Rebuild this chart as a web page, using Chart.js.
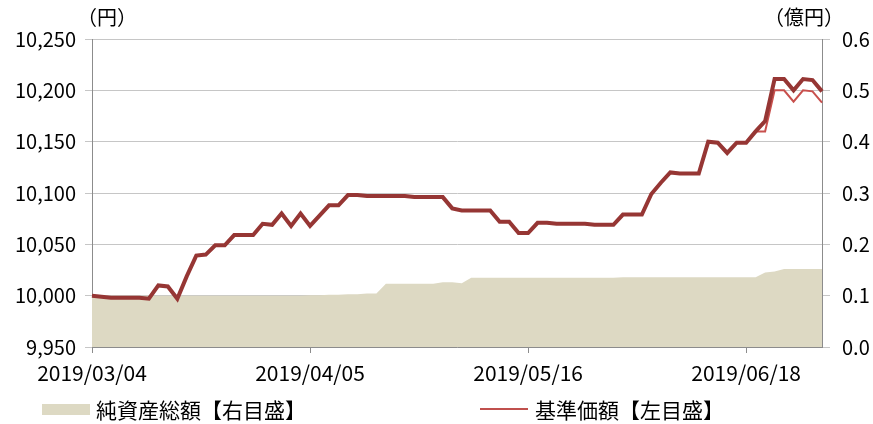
<!DOCTYPE html>
<html>
<head>
<meta charset="utf-8">
<script src="https://cdn.jsdelivr.net/npm/chart.js@4"></script>
<style>
    html, body { margin: 0; padding: 0; background: #fff; }
    #wrap { position: relative; width: 873px; height: 424px; font-family: "Noto Sans CJK JP", sans-serif; color: #000; }
    #myChart { position: absolute; left: 0; top: 0; }
    .txt { position: absolute; font-size: 20px; line-height: 22px; white-space: nowrap; }
    .swatch { position: absolute; }
</style>
</head>
<body>
<div id="wrap">
    <canvas id="myChart" width="873" height="424"></canvas>
    <div class="txt" style="left:77px; top:6px;">（円）</div>
    <div class="txt" style="left:764px; top:6px;">（億円）</div>
    <div class="swatch" style="left:42px; top:404px; width:48px; height:11px; background:#DDD9C3;"></div>
    <div class="txt" style="left:96px; top:398px; font-size:21px;">純資産総額【右目盛】</div>
    <div class="swatch" style="left:480px; top:408px; width:48px; height:2px; background:#C0504D;"></div>
    <div class="txt" style="left:535px; top:398px; font-size:21px;">基準価額【左目盛】</div>
</div>
<script>
// business days 2019/03/04 - 2019/06/28
const dates = [
    '2019/03/04','2019/03/05','2019/03/06','2019/03/07','2019/03/08','2019/03/11','2019/03/12','2019/03/13','2019/03/14','2019/03/15',
    '2019/03/18','2019/03/19','2019/03/20','2019/03/22','2019/03/25','2019/03/26','2019/03/27','2019/03/28','2019/03/29',
    '2019/04/01','2019/04/02','2019/04/03','2019/04/04','2019/04/05','2019/04/08','2019/04/09','2019/04/10','2019/04/11','2019/04/12',
    '2019/04/15','2019/04/16','2019/04/17','2019/04/18','2019/04/19','2019/04/22','2019/04/23','2019/04/24','2019/04/25','2019/04/26',
    '2019/05/07','2019/05/08','2019/05/09','2019/05/10','2019/05/13','2019/05/14','2019/05/15','2019/05/16','2019/05/17',
    '2019/05/20','2019/05/21','2019/05/22','2019/05/23','2019/05/24','2019/05/27','2019/05/28','2019/05/29','2019/05/30','2019/05/31',
    '2019/06/03','2019/06/04','2019/06/05','2019/06/06','2019/06/07','2019/06/10','2019/06/11','2019/06/12','2019/06/13','2019/06/14',
    '2019/06/17','2019/06/18','2019/06/19','2019/06/20','2019/06/21','2019/06/24','2019/06/25','2019/06/26','2019/06/27','2019/06/28'
];

// dates that get a label on the x axis
const labeledDates = ['2019/03/04', '2019/04/05', '2019/05/16', '2019/06/18'];

// thick dark line (no legend entry)
const reinvestedNav = [
    10000, 9999, 9998, 9998, 9998, 9998, 9997, 10010, 10009, 9997,
    10019, 10039, 10040, 10049, 10049, 10059, 10059, 10059, 10070, 10069,
    10080, 10068, 10080, 10068, 10078, 10088, 10088, 10098, 10098, 10097,
    10097, 10097, 10097, 10097, 10096, 10096, 10096, 10096, 10085, 10083,
    10083, 10083, 10083, 10072, 10072, 10061, 10061, 10071, 10071, 10070,
    10070, 10070, 10070, 10069, 10069, 10069, 10079, 10079, 10079, 10099,
    10110, 10120, 10119, 10119, 10119, 10150, 10149, 10139, 10149, 10149,
    10160, 10170, 10211, 10211, 10200, 10211, 10210, 10199
];

// 基準価額 (円)
const nav = [
    10000, 9999, 9998, 9998, 9998, 9998, 9997, 10010, 10009, 9997,
    10019, 10039, 10040, 10049, 10049, 10059, 10059, 10059, 10070, 10069,
    10080, 10068, 10080, 10068, 10078, 10088, 10088, 10098, 10098, 10097,
    10097, 10097, 10097, 10097, 10096, 10096, 10096, 10096, 10085, 10083,
    10083, 10083, 10083, 10072, 10072, 10061, 10061, 10071, 10071, 10070,
    10070, 10070, 10070, 10069, 10069, 10069, 10079, 10079, 10079, 10099,
    10110, 10120, 10119, 10119, 10119, 10150, 10149, 10139, 10149, 10149,
    10160, 10160, 10200, 10200, 10189, 10200, 10199, 10188
];

// 純資産総額 (億円)
const totalAssets = [
    0.100, 0.100, 0.100, 0.100, 0.100, 0.100, 0.100, 0.100, 0.100, 0.100,
    0.100, 0.100, 0.100, 0.100, 0.100, 0.100, 0.100, 0.100, 0.100, 0.100,
    0.100, 0.100, 0.100, 0.101, 0.101, 0.102, 0.102, 0.103, 0.103, 0.104,
    0.104, 0.123, 0.123, 0.123, 0.123, 0.123, 0.123, 0.126, 0.126, 0.124,
    0.135, 0.135, 0.135, 0.135, 0.135, 0.135, 0.135, 0.135, 0.135, 0.135,
    0.135, 0.135, 0.135, 0.135, 0.135, 0.135, 0.136, 0.136, 0.136, 0.136,
    0.136, 0.136, 0.136, 0.136, 0.136, 0.136, 0.136, 0.136, 0.136, 0.136,
    0.136, 0.145, 0.147, 0.152, 0.152, 0.152, 0.152, 0.152
];

const leftTicks = [9950, 10250, 50];   // min, max, step
const rightTicks = [0, 0.6, 0.1];

const gridColor = '#C6C6C6';
const axisColor = '#8C8C8C';
const tickFont = { family: '"Noto Sans CJK JP", sans-serif', size: 20 };

const renderChart = () => {
    const ctx = document.getElementById('myChart').getContext('2d');
    new Chart(ctx, {
        type: 'line',
        data: {
            labels: dates,
            datasets: [
                {
                    label: '分配金再投資基準価額',
                    data: reinvestedNav,
                    yAxisID: 'y',
                    borderColor: '#963634',
                    borderWidth: 4,
                    pointRadius: 0,
                    tension: 0,
                    order: 0,
                },
                {
                    label: '基準価額【左目盛】',
                    data: nav,
                    yAxisID: 'y',
                    borderColor: '#C8504D',
                    borderWidth: 2,
                    pointRadius: 0,
                    tension: 0,
                    order: 1,
                },
                {
                    label: '純資産総額【右目盛】',
                    data: totalAssets,
                    yAxisID: 'y1',
                    borderWidth: 0,
                    borderColor: 'transparent',
                    backgroundColor: '#DDD9C3',
                    fill: 'origin',
                    pointRadius: 0,
                    tension: 0,
                    order: 2,
                },
            ],
        },
        options: {
            responsive: false,
            animation: false,
            layout: { padding: { top: 39, left: 0, right: 0, bottom: 0 } },
            plugins: {
                legend: { display: false },
                tooltip: { enabled: false },
            },
            scales: {
                x: {
                    offset: false,
                    afterFit: (s) => { s.height = 77; },
                    border: { color: axisColor, width: 1 },
                    grid: {
                        drawOnChartArea: false,
                        tickLength: 6,
                        color: (c) => labeledDates.includes(dates[c.index]) ? axisColor : 'transparent',
                    },
                    ticks: {
                        autoSkip: false,
                        maxRotation: 0,
                        padding: 7,
                        color: '#000',
                        font: { family: tickFont.family, size: 21 },
                        callback: (v, i) => labeledDates.includes(dates[i]) ? dates[i] : '',
                    },
                },
                y: {
                    position: 'left',
                    min: leftTicks[0],
                    max: leftTicks[1],
                    afterFit: (s) => { s.width = 92; },
                    border: { color: axisColor, width: 1 },
                    grid: { color: gridColor, tickLength: 7 },
                    ticks: {
                        stepSize: leftTicks[2],
                        padding: 9,
                        color: '#000',
                        font: tickFont,
                        callback: (v) => v.toLocaleString('en-US'),
                    },
                },
                y1: {
                    position: 'right',
                    min: rightTicks[0],
                    max: rightTicks[1],
                    afterFit: (s) => { s.width = 51; },
                    border: { color: axisColor, width: 1 },
                    grid: { drawOnChartArea: false, color: gridColor, tickLength: 8 },
                    ticks: {
                        stepSize: rightTicks[2],
                        padding: 12,
                        color: '#000',
                        font: tickFont,
                        callback: (v) => v.toFixed(1),
                    },
                },
            },
        },
    });
}

renderChart();
</script>
</body>
</html>
